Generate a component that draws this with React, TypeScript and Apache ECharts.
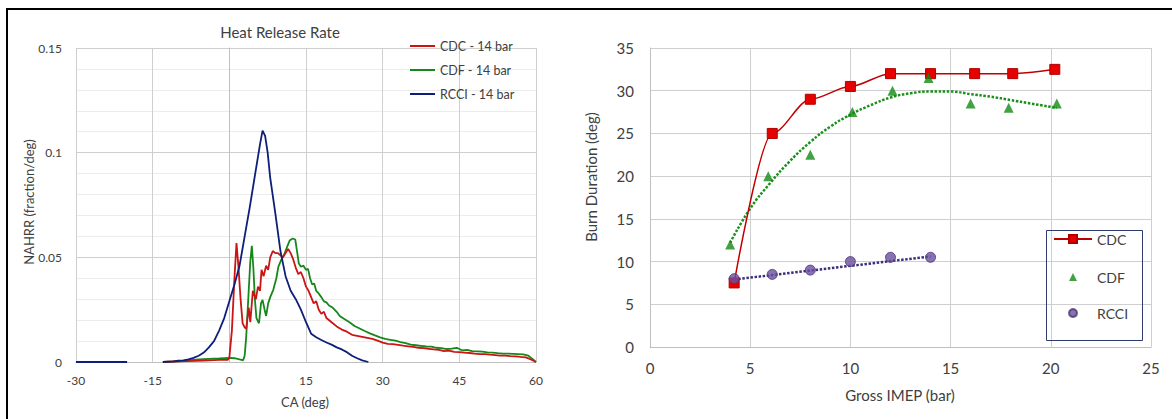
import React, { useEffect, useRef } from 'react';
import * as echarts from 'echarts';

// ---------- Left chart: Heat Release Rate (CA deg, NAHRR) ----------
const hrrCDC: (number | null)[][] = [
  [-13, 0], [-10, 0.0003], [-5, 0.0007], [-2, 0.001], [-0.3, 0.001], [0, 0.002], [0.5, 0.015], [1, 0.04],
  [1.4, 0.0568], [1.8, 0.045], [2.2, 0.03], [2.6, 0.0185], [3.0, 0.0165], [3.3, 0.016], [3.8, 0.026],
  [4.1, 0.019], [4.6, 0.034], [5.2, 0.03], [5.6, 0.036], [6.0, 0.034], [6.3, 0.044], [6.7, 0.041],
  [7.2, 0.046], [7.6, 0.044], [8.0, 0.05], [8.5, 0.053], [9, 0.052], [9.5, 0.052], [10, 0.051],
  [10.5, 0.05], [11, 0.052], [11.5, 0.054], [12, 0.052], [12.5, 0.049], [13, 0.045], [13.5, 0.042],
  [14, 0.043], [14.5, 0.04], [15, 0.036], [15.5, 0.034], [16, 0.031], [16.5, 0.028], [17, 0.029],
  [17.5, 0.025], [18, 0.023], [18.5, 0.024], [19, 0.021], [20, 0.019], [21, 0.017], [22, 0.0155],
  [23, 0.0145], [24, 0.013], [25, 0.0125], [26, 0.012], [27, 0.0115], [28, 0.011], [29, 0.0102],
  [30, 0.0093], [31, 0.0087], [32, 0.0085], [33, 0.0082], [34, 0.0078], [35, 0.0075], [36, 0.0072],
  [37, 0.0068], [38, 0.0066], [39, 0.0063], [40, 0.006], [41, 0.0058], [42, 0.0052], [43, 0.0054],
  [44, 0.0048], [45, 0.0047], [46, 0.0045], [47, 0.0043], [48, 0.004], [49, 0.0038], [50, 0.0038],
  [51, 0.0035], [52, 0.0033], [53, 0.003], [54, 0.003], [55, 0.0028], [56, 0.0027], [57, 0.0024],
  [58, 0.0022], [59, 0.0012], [60, 0]
];

const hrrCDF: (number | null)[][] = [
  [-13, 0], [-10, 0.0003], [-8, 0.0008], [-6, 0.0012], [-4, 0.0015], [-2, 0.0017], [0, 0.002], [1, 0.0018],
  [2, 0.0012], [2.7, 0.0008], [3.0, 0.003], [3.3, 0.012], [3.7, 0.03], [4.1, 0.048], [4.4, 0.0555],
  [4.7, 0.045], [5.0, 0.03], [5.3, 0.021], [5.8, 0.0185], [6.2, 0.028], [6.5, 0.0297], [6.9, 0.025],
  [7.2, 0.022], [7.6, 0.028], [8.0, 0.031], [8.6, 0.0345], [9.2, 0.04], [9.6, 0.0456], [10.2, 0.049],
  [10.7, 0.0511], [11.3, 0.055], [11.8, 0.058], [12.4, 0.059], [12.9, 0.0585], [13.3, 0.052],
  [13.6, 0.047], [14, 0.0455], [14.5, 0.046], [15, 0.044], [15.4, 0.0445], [15.8, 0.04], [16.2, 0.037],
  [16.6, 0.0375], [17, 0.034], [17.4, 0.033], [18, 0.031], [18.5, 0.029], [19, 0.0285], [19.5, 0.027],
  [20.2, 0.026], [21, 0.024], [21.6, 0.022], [22.5, 0.0205], [23.5, 0.019], [24.5, 0.0172],
  [25.5, 0.016], [26.5, 0.0148], [27.5, 0.0137], [28.5, 0.0127], [29.5, 0.0118], [30.5, 0.011],
  [31.5, 0.0106], [32.5, 0.0102], [33.5, 0.0095], [34.5, 0.009], [35.5, 0.0083], [36.5, 0.008],
  [37.5, 0.0077], [38.5, 0.0074], [39.5, 0.0073], [40.5, 0.0068], [41.5, 0.0066], [42.5, 0.0062],
  [43.5, 0.0064], [44.5, 0.0068], [45.5, 0.0056], [46.5, 0.0058], [47.5, 0.0052], [48.5, 0.0051],
  [49.5, 0.005], [50.5, 0.0046], [51.5, 0.0045], [52.5, 0.0042], [53.5, 0.004], [54.5, 0.004],
  [55.5, 0.0039], [56.5, 0.0038], [57.5, 0.0036], [58.5, 0.003], [59.3, 0.0015], [60, 0]
];

const hrrRCCI: (number | null)[][] = [
  [-30, 0], [-20, 0], [-19.5, null],
  [-13, 0], [-11, 0.0003], [-10, 0.0006], [-9, 0.0008], [-8, 0.0013], [-7, 0.002], [-6, 0.003],
  [-5, 0.0045], [-4, 0.007], [-3, 0.01], [-2, 0.015], [-1, 0.021], [0, 0.029], [1, 0.037], [2, 0.046],
  [3, 0.06], [4, 0.074], [5, 0.089], [6, 0.104], [6.5, 0.1105], [7, 0.108], [7.5, 0.1], [8, 0.088],
  [9, 0.071], [10, 0.053], [11, 0.041], [12, 0.034], [13, 0.03], [14, 0.025], [15, 0.019],
  [16, 0.0135], [17, 0.0118], [18, 0.0105], [19, 0.0093], [20, 0.0083], [21, 0.007], [22, 0.006],
  [23, 0.0047], [24, 0.003], [25, 0.0018], [26, 0.0008], [27.2, 0]
];

// ---------- Right chart: Burn Duration vs Gross IMEP ----------
const imepCDC = [4.2, 6.1, 8.0, 10.0, 12.0, 14.0, 16.2, 18.1, 20.2];
const burnCDC = [7.5, 25, 29, 30.5, 32, 32, 32, 32, 32.5];
const imepCDF = [4.0, 5.9, 8.0, 10.1, 12.1, 13.9, 16.0, 17.9, 20.3];
const burnCDF = [12, 20, 22.5, 27.5, 30, 31.5, 28.5, 28, 28.5];
const imepRCCI = [4.2, 6.1, 8.0, 10.0, 12.0, 14.0];
const burnRCCI = [8, 8.5, 9, 10, 10.5, 10.5];
const cdfTrendX = [4, 5, 6, 7, 8, 9, 10, 11, 12, 13, 14, 15, 16, 17, 18, 19, 20.3];
const cdfTrendY = [12.2, 16.2, 19.2, 21.8, 24.0, 25.8, 27.2, 28.3, 29.2, 29.7, 29.9, 29.9, 29.6, 29.3, 28.9, 28.5, 28.0];
const rcciTrendX = [4.2, 14];
const rcciTrendY = [7.9, 10.6];

const FONT = 'Lato, "Open Sans", sans-serif';
const TXT = '#404040';
const zip = (xs: number[], ys: number[]) => xs.map((x, i) => [x, ys[i]]);

export default function App() {
  const ref = useRef<HTMLDivElement>(null);
  useEffect(() => {
    if (!ref.current) return;
    const chart = echarts.init(ref.current, undefined, { renderer: 'svg' });
    const gridColor = '#cfcfcf';
    const option: any = {
      animation: false,
      backgroundColor: '#ffffff',
      textStyle: { fontFamily: FONT },
      grid: [
        { left: 76, right: 636, top: 48, bottom: 57 },
        { left: 650, right: 21, top: 48, bottom: 72 }
      ],
      xAxis: [
        {
          gridIndex: 0, type: 'value', min: -30, max: 60, interval: 15,
          axisLine: { show: true, lineStyle: { color: '#bfbfbf', width: 1 } },
          axisTick: { show: false },
          axisLabel: { color: TXT, fontSize: 12, margin: 12, fontFamily: FONT },
          splitLine: { show: true, lineStyle: { color: gridColor, width: 1 } }
        },
        {
          gridIndex: 1, type: 'value', min: 0, max: 25, interval: 5,
          axisLine: { show: true, lineStyle: { color: '#bfbfbf', width: 1 } },
          axisTick: { show: false },
          axisLabel: { color: TXT, fontSize: 15, margin: 13, fontFamily: FONT },
          splitLine: { show: true, lineStyle: { color: gridColor, width: 1 } }
        }
      ],
      yAxis: [
        {
          gridIndex: 0, type: 'value', min: 0, max: 0.15, interval: 0.05,
          axisLine: { show: true, lineStyle: { color: '#bfbfbf', width: 1 } },
          axisTick: { show: false },
          axisLabel: { color: TXT, fontSize: 12, margin: 14, fontFamily: FONT },
          splitLine: { show: true, lineStyle: { color: gridColor, width: 1 } },
          minorTick: { show: false, splitNumber: 5 },
          minorSplitLine: { show: true, lineStyle: { color: '#ececec', width: 1 } }
        },
        {
          gridIndex: 1, type: 'value', min: 0, max: 35, interval: 5,
          axisLine: { show: true, lineStyle: { color: '#bfbfbf', width: 1 } },
          axisTick: { show: false },
          axisLabel: { color: TXT, fontSize: 15, margin: 16, fontFamily: FONT },
          splitLine: { show: true, lineStyle: { color: gridColor, width: 1 } }
        }
      ],
      legend: [
        {
          data: ['CDC - 14 bar', 'CDF - 14 bar', 'RCCI - 14 bar'],
          orient: 'vertical', left: 410, top: 39, padding: 0,
          itemWidth: 25, itemHeight: 2, itemGap: 10, icon: 'rect',
          textStyle: { color: TXT, fontSize: 12.5, lineHeight: 14, fontFamily: FONT }
        },
        {
          data: ['CDC'],
          orient: 'vertical', left: 1053, top: 231, padding: 0,
          itemWidth: 38, itemHeight: 10,
          textStyle: { color: TXT, fontSize: 14, lineHeight: 16, fontFamily: FONT }
        },
        {
          data: ['CDF', 'RCCI'],
          orient: 'vertical', left: 1068, top: 269, padding: 0,
          itemWidth: 8, itemHeight: 8, itemGap: 20,
          textStyle: { color: TXT, fontSize: 14, lineHeight: 16, fontFamily: FONT, padding: [0, 0, 0, 15] }
        }
      ],
      series: [
        {
          name: 'CDF - 14 bar', type: 'line', xAxisIndex: 0, yAxisIndex: 0, data: hrrCDF,
          symbol: 'none', connectNulls: false, color: '#16881a',
          lineStyle: { color: '#16881a', width: 1.8 }, z: 3
        },
        {
          name: 'CDC - 14 bar', type: 'line', xAxisIndex: 0, yAxisIndex: 0, data: hrrCDC,
          symbol: 'none', connectNulls: false, color: '#cc1414',
          lineStyle: { color: '#cc1414', width: 1.8 }, z: 4
        },
        {
          name: 'RCCI - 14 bar', type: 'line', xAxisIndex: 0, yAxisIndex: 0, data: hrrRCCI,
          symbol: 'none', connectNulls: false, color: '#0d1f78',
          lineStyle: { color: '#0d1f78', width: 1.8 }, z: 5
        },
        {
          name: 'CDF trend', type: 'line', xAxisIndex: 1, yAxisIndex: 1, data: zip(cdfTrendX, cdfTrendY),
          symbol: 'none', smooth: 0.5, lineStyle: { color: '#1a8f1a', width: 2.5, type: [2.5, 1.6] }, z: 2
        },
        {
          name: 'RCCI trend', type: 'line', xAxisIndex: 1, yAxisIndex: 1, data: zip(rcciTrendX, rcciTrendY),
          symbol: 'none', lineStyle: { color: '#3e2e7c', width: 2.5, type: [2.5, 1.6] }, z: 2
        },
        {
          name: 'CDC', type: 'line', xAxisIndex: 1, yAxisIndex: 1, data: zip(imepCDC, burnCDC),
          symbol: 'rect', symbolSize: 10, smooth: 0.3, smoothMonotone: 'x', color: '#e60000',
          lineStyle: { color: '#c00000', width: 1.5 },
          itemStyle: { color: '#e60000', borderColor: '#b00000', borderWidth: 1 }, z: 4
        },
        {
          name: 'CDF', type: 'scatter', xAxisIndex: 1, yAxisIndex: 1, data: zip(imepCDF, burnCDF),
          symbol: 'triangle', symbolSize: 10, color: '#138a13',
          itemStyle: { color: '#138a13' }, z: 5
        },
        {
          name: 'RCCI', type: 'scatter', xAxisIndex: 1, yAxisIndex: 1, data: zip(imepRCCI, burnRCCI),
          symbol: 'circle', symbolSize: 10, color: '#6b4f9e',
          itemStyle: { color: '#6b4f9e', borderColor: '#4a3578', borderWidth: 1 }, z: 5
        }
      ],
      graphic: [
        { type: 'rect', shape: { x: 6, y: 8, width: 1166, height: 2 }, style: { fill: '#000' }, silent: true },
        { type: 'rect', shape: { x: 6, y: 8, width: 2, height: 411 }, style: { fill: '#000' }, silent: true },
        {
          type: 'rect', shape: { x: 1046.5, y: 230.5, width: 96, height: 110 },
          style: { fill: 'none', stroke: '#2f3a6e', lineWidth: 1 }, silent: true, z: 10
        },
        {
          type: 'text', x: 280, y: 32,
          style: { text: 'Heat Release Rate', font: `15px ${FONT}`, fill: TXT, align: 'center', verticalAlign: 'middle', textAlign: 'center', textVerticalAlign: 'middle' }
        },
        {
          type: 'text', x: 29, y: 202, rotation: Math.PI / 2,
          style: { text: 'NAHRR (fraction/deg)', font: `13px ${FONT}`, fill: TXT, align: 'center', verticalAlign: 'middle', textAlign: 'center', textVerticalAlign: 'middle' }
        },
        {
          type: 'text', x: 305, y: 402,
          style: { text: 'CA (deg)', font: `13px ${FONT}`, fill: TXT, align: 'center', verticalAlign: 'middle', textAlign: 'center', textVerticalAlign: 'middle' }
        },
        {
          type: 'text', x: 591, y: 177, rotation: Math.PI / 2,
          style: { text: 'Burn Duration (deg)', font: `15px ${FONT}`, fill: TXT, align: 'center', verticalAlign: 'middle', textAlign: 'center', textVerticalAlign: 'middle' }
        },
        {
          type: 'text', x: 900, y: 395,
          style: { text: 'Gross IMEP (bar)', font: `15px ${FONT}`, fill: TXT, align: 'center', verticalAlign: 'middle', textAlign: 'center', textVerticalAlign: 'middle' }
        }
      ]
    };
    chart.setOption(option);
    return () => chart.dispose();
  }, []);
  return (
    <div
      ref={ref}
      style={{ position: 'fixed', left: 0, top: 0, width: 1172, height: 419, background: '#fff' }}
    />
  );
}
